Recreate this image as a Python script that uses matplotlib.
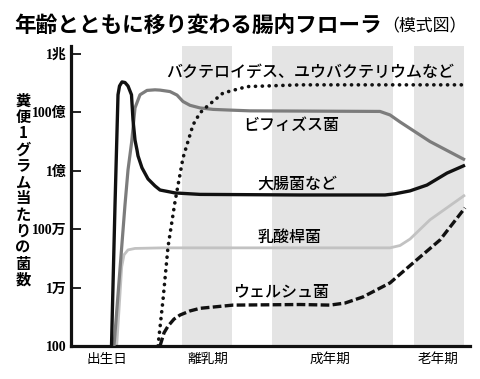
import matplotlib
matplotlib.use("Agg")
import matplotlib.pyplot as plt
import numpy as np

plt.rcParams['font.family'] = ['Noto Sans CJK JP', 'DejaVu Sans']

# timeline position (0-100, schematic) and log10(bacteria per gram)
stage_labels = ['出生日', '離乳期', '成年期', '老年期']
stage_pos = [9.0, 34.3, 64.9, 92.0]
shade_spans = [(27.8, 40.4), (50.4, 80.7), (86.0, 98.5)]

ytick_vals = [2, 4, 6, 8, 10, 12]
ytick_labels = ['100', '1万', '100万', '1億', '100億', '1兆']

ecoli_x = [10.15, 11.03, 11.78, 12.16, 12.78, 13.53, 14.29, 15.16, 15.54, 16.04, 16.54,
           16.79, 17.79, 19.30, 21.05, 22.31, 26.07, 32.33, 57.39, 78.70, 81.20, 84.96,
           89.22, 94.24, 98.75]
ecoli_y = [2.0, 6.83, 10.60, 10.90, 11.04, 11.02, 10.90, 10.60, 9.74, 9.05, 8.71,
           8.51, 8.10, 7.72, 7.48, 7.34, 7.24, 7.19, 7.17, 7.17, 7.21, 7.31,
           7.51, 7.92, 8.19]

bifido_x = [10.78, 13.53, 14.29, 15.21, 16.04, 17.29, 19.05, 21.05, 22.31, 24.81, 26.57,
            28.07, 29.82, 32.33, 35.59, 39.10, 44.86, 77.44, 79.95, 82.46, 89.97, 98.75]
bifido_y = [2.0, 6.83, 8.03, 8.99, 10.15, 10.60, 10.75, 10.77, 10.76, 10.71, 10.59,
            10.37, 10.24, 10.15, 10.10, 10.08, 10.05, 10.03, 9.91, 9.67, 9.00, 8.37]

lacto_x = [11.45, 12.03, 12.71, 13.28, 14.29, 16.04, 23.06, 79.95, 82.46, 84.96, 89.97, 98.75]
lacto_y = [2.0, 3.23, 4.71, 5.12, 5.29, 5.34, 5.36, 5.36, 5.44, 5.66, 6.32, 7.17]

welchii_x = [22.31, 23.31, 24.31, 25.81, 27.32, 29.82, 32.33, 40.60, 57.39, 64.91, 68.67,
             73.18, 79.95, 85.71, 92.48, 98.75]
welchii_y = [2.0, 2.45, 2.68, 2.92, 3.06, 3.20, 3.29, 3.40, 3.42, 3.40, 3.47,
             3.68, 4.16, 4.84, 5.63, 6.73]

bactero_x = [21.80, 23.06, 24.31, 26.07, 28.07, 30.58, 32.33, 34.09, 38.10, 44.11, 57.39, 98.75]
bactero_y = [2.0, 3.58, 5.39, 6.94, 8.44, 9.57, 9.98, 10.20, 10.66, 10.88, 10.94, 10.94]

W, H = 480, 379
fig = plt.figure(figsize=(4.8, 3.79), dpi=100, facecolor='white')
ax = fig.add_axes([71 / W, (H - 346) / H, 399 / W, 300 / H])


def fx(px):
    return px / W


def fy(py):
    return 1 - py / H


for a, b in shade_spans:
    ax.axvspan(a, b, color='#e4e4e4', lw=0, zorder=0)

ax.plot(lacto_x, 10 ** np.array(lacto_y), color='#c2c2c2', lw=2.0, zorder=2,
        solid_capstyle='butt', solid_joinstyle='round')
ax.plot(bifido_x, 10 ** np.array(bifido_y), color='#7c7c7c', lw=2.3, zorder=3,
        solid_capstyle='butt', solid_joinstyle='round')
ax.plot(ecoli_x, 10 ** np.array(ecoli_y), color='#111111', lw=2.4, zorder=4,
        solid_capstyle='butt', solid_joinstyle='round')
ax.plot(welchii_x, 10 ** np.array(welchii_y), color='#111111', lw=2.4, zorder=4,
        linestyle=(0, (2.6, 1.0)), dash_capstyle='butt')
ax.plot(bactero_x, 10 ** np.array(bactero_y), color='#111111', lw=2.6, zorder=5,
        linestyle=(0, (0.05, 1.85)), dash_capstyle='round')

ax.set_yscale('log')
ax.set_xlim(0, 100)
ax.set_ylim(1e2, 10 ** 12.27)
ax.set_facecolor('none')

for s in ['top', 'right']:
    ax.spines[s].set_visible(False)
for s in ['left', 'bottom']:
    ax.spines[s].set_linewidth(2.3)
    ax.spines[s].set_color('#111111')

ax.set_yticks([10.0 ** v for v in ytick_vals])
ax.set_yticklabels(ytick_labels, family=['Liberation Serif', 'Noto Sans CJK JP'],
                   fontsize=10, fontweight='bold')
ax.yaxis.set_minor_locator(matplotlib.ticker.NullLocator())
ax.tick_params(axis='y', direction='in', length=7, width=1.3, pad=3, color='#111111')

ax.set_xticks(stage_pos)
ax.set_xticklabels(stage_labels, fontsize=9.8)
ax.tick_params(axis='x', length=0, pad=4)

# title
fig.text(fx(14), fy(25), '年齢とともに移り変わる腸内フローラ', fontsize=15.6,
         fontweight='bold', ha='left', va='center')
fig.text(fx(467), fy(26), '（模式図）', fontsize=12.2, ha='right', va='center')

# vertical y label
ylab = '糞便1グラム当たりの菌数'
for i, ch in enumerate(ylab):
    fig.text(fx(23), fy(100.5 + i * 16.3), ch, fontsize=11, fontweight='bold',
             ha='center', va='center')

# curve labels
labels = [
    ('バクテロイデス、ユウバクテリウムなど', 166, 72),
    ('ビフィズス菌', 243, 125),
    ('大腸菌など', 257, 184),
    ('乳酸桿菌', 258, 237),
    ('ウェルシュ菌', 233, 293),
]
for txt, px, py in labels:
    fig.text(fx(px), fy(py), txt, fontsize=11.5, ha='left', va='center',
             fontweight='medium')

fig.savefig('out.png', dpi=100, facecolor='white')
